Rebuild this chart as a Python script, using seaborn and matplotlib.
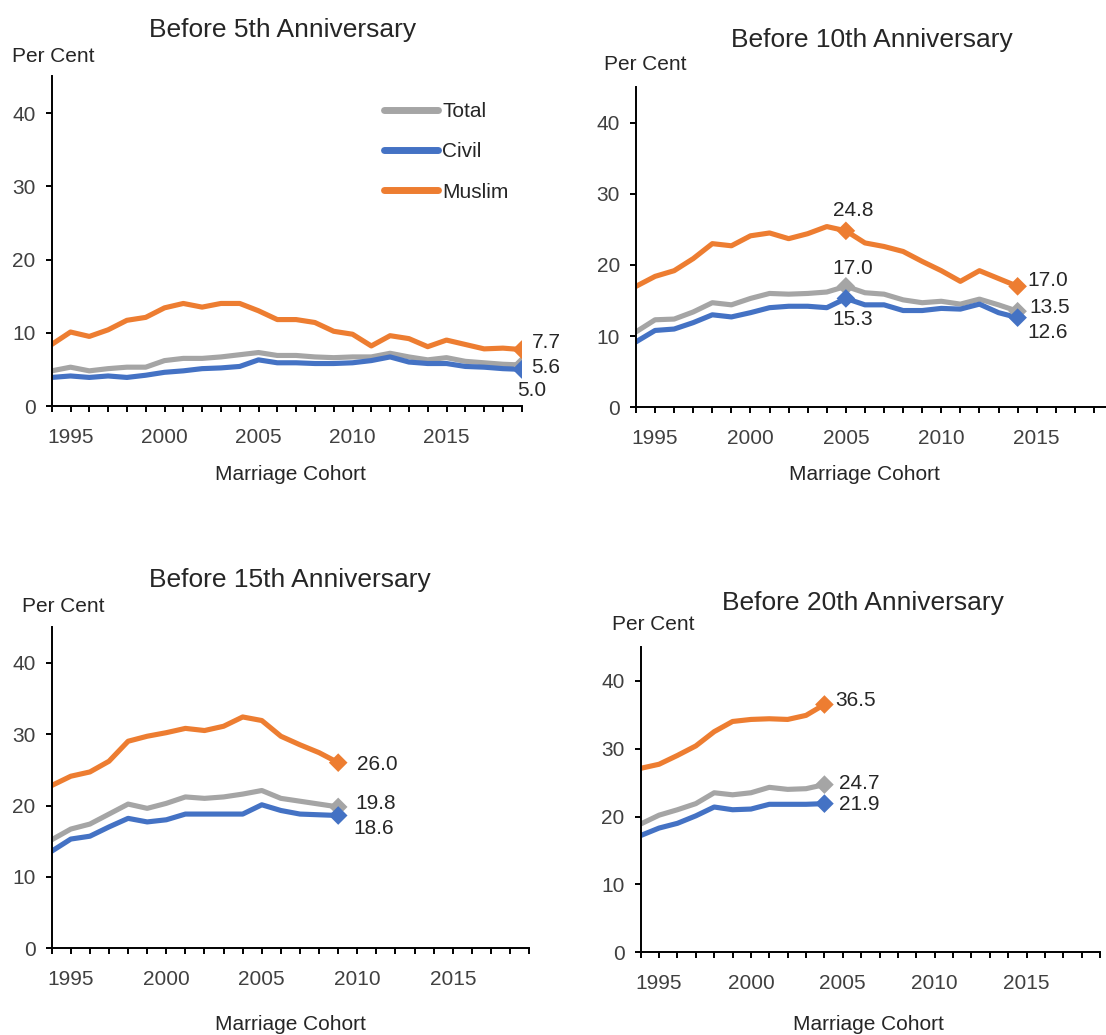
import pandas as pd
import matplotlib
matplotlib.use("Agg")
import matplotlib.pyplot as plt
import seaborn as sns

# marriage cohorts (x axis runs 1994-2019 in every panel)
axis_years = list(range(1994, 2020))

years_5 = list(range(1994, 2020))
total_5 = [4.8, 5.3, 4.8, 5.1, 5.3, 5.3, 6.2, 6.5, 6.5, 6.7, 7.0, 7.3, 6.9, 6.9, 6.7, 6.6, 6.7, 6.7, 7.2, 6.7, 6.3, 6.6, 6.1, 5.9, 5.7, 5.6]
civil_5 = [3.9, 4.1, 3.9, 4.1, 3.9, 4.2, 4.6, 4.8, 5.1, 5.2, 5.4, 6.3, 5.9, 5.9, 5.8, 5.8, 5.9, 6.2, 6.7, 6.0, 5.8, 5.8, 5.4, 5.3, 5.1, 5.0]
muslim_5 = [8.4, 10.1, 9.5, 10.4, 11.7, 12.1, 13.4, 14.0, 13.5, 14.0, 14.0, 13.0, 11.8, 11.8, 11.4, 10.2, 9.8, 8.2, 9.6, 9.2, 8.1, 9.0, 8.4, 7.8, 7.9, 7.7]

years_10 = list(range(1994, 2015))
total_10 = [10.6, 12.3, 12.4, 13.4, 14.7, 14.4, 15.3, 16.0, 15.9, 16.0, 16.2, 17.0, 16.1, 15.9, 15.1, 14.7, 14.9, 14.5, 15.2, 14.4, 13.5]
civil_10 = [9.2, 10.8, 11.0, 11.9, 13.0, 12.7, 13.3, 14.0, 14.2, 14.2, 14.0, 15.3, 14.4, 14.4, 13.6, 13.6, 13.9, 13.8, 14.5, 13.3, 12.6]
muslim_10 = [17.0, 18.4, 19.2, 20.9, 23.0, 22.7, 24.1, 24.5, 23.7, 24.4, 25.4, 24.8, 23.1, 22.6, 21.9, 20.5, 19.2, 17.7, 19.2, 18.1, 17.0]

years_15 = list(range(1994, 2010))
total_15 = [15.2, 16.7, 17.4, 18.8, 20.2, 19.6, 20.3, 21.2, 21.0, 21.2, 21.6, 22.1, 21.0, 20.6, 20.2, 19.8]
civil_15 = [13.6, 15.3, 15.7, 17.0, 18.2, 17.7, 18.0, 18.8, 18.8, 18.8, 18.8, 20.1, 19.3, 18.8, 18.7, 18.6]
muslim_15 = [22.8, 24.1, 24.7, 26.2, 29.0, 29.7, 30.2, 30.8, 30.5, 31.1, 32.4, 31.9, 29.7, 28.5, 27.4, 26.0]

years_20 = list(range(1994, 2005))
total_20 = [18.9, 20.2, 21.0, 21.9, 23.5, 23.2, 23.5, 24.3, 24.0, 24.1, 24.7]
civil_20 = [17.2, 18.3, 19.0, 20.1, 21.4, 21.0, 21.1, 21.8, 21.8, 21.8, 21.9]
muslim_20 = [27.1, 27.7, 29.0, 30.4, 32.5, 34.0, 34.3, 34.4, 34.3, 34.9, 36.5]

series_names = ["Total", "Civil", "Muslim"]
colors = {"Total": "#A5A5A5", "Civil": "#4472C4", "Muslim": "#ED7D31"}

# (title, years, [total, civil, muslim], years to mark with a diamond + label)
panels = [
    ("Before 5th Anniversary", years_5, [total_5, civil_5, muslim_5], [2019]),
    ("Before 10th Anniversary", years_10, [total_10, civil_10, muslim_10], [2005, 2014]),
    ("Before 15th Anniversary", years_15, [total_15, civil_15, muslim_15], [2009]),
    ("Before 20th Anniversary", years_20, [total_20, civil_20, muslim_20], [2004]),
]

# label offsets in points: (panel, series, year) -> (dx, dy, ha)
label_pos = {
    (0, "Muslim", 2019): (7, 5, "left"),
    (0, "Total", 2019): (7, -2, "left"),
    (0, "Civil", 2019): (-3.5, -15, "left"),
    (1, "Muslim", 2005): (5, 15, "center"),
    (1, "Total", 2005): (5, 13, "center"),
    (1, "Civil", 2005): (5, -15.5, "center"),
    (1, "Muslim", 2014): (7, 4.3, "left"),
    (1, "Total", 2014): (8.6, 2.8, "left"),
    (1, "Civil", 2014): (7, -11, "left"),
    (2, "Muslim", 2009): (13.3, -1.4, "left"),
    (2, "Total", 2009): (12.2, 2.2, "left"),
    (2, "Civil", 2009): (10.8, -9.7, "left"),
    (3, "Muslim", 2004): (7.6, 2.9, "left"),
    (3, "Total", 2004): (10.8, 0.7, "left"),
    (3, "Civil", 2004): (10.8, -0.7, "left"),
}

sns.set_style("ticks")
plt.rcParams["font.family"] = ["Liberation Sans", "DejaVu Sans"]

W, H = 1106, 1035
fig = plt.figure(figsize=(W / 100, H / 100), dpi=100)

# axes boxes in pixels: left, right, top, bottom
boxes = [(51.7, 521.7, 76.4, 406.0),
         (636.0, 1113.0, 87.1, 407.3),
         (51.7, 529.2, 627.0, 948.3),
         (640.7, 1100.0, 646.8, 952.3)]
# title centre, "Per Cent" left/centre y, "Marriage Cohort" centre
title_xy = [(283, 30), (872, 40), (290, 580), (863, 603)]
percent_xy = [(12, 57), (604, 64), (22, 607), (612, 625)]
cohort_xy = [(290, 474), (864, 474), (290, 1025), (868, 1025)]

text_col = "#262626"
tick_col = "#404040"

for i, (title, yrs, vals, marks) in enumerate(panels):
    l, r, t, b = boxes[i]
    ax = fig.add_axes([l / W, 1 - b / H, (r - l) / W, (b - t) / H])

    df = pd.DataFrame({
        "year": yrs * 3,
        "value": vals[0] + vals[1] + vals[2],
        "series": [s for s in series_names for _ in yrs],
    })
    sns.lineplot(data=df, x="year", y="value", hue="series", hue_order=series_names,
                 palette=colors, linewidth=3.7, ax=ax, legend=(i == 0))
    for ln in ax.lines:
        ln.set_solid_capstyle("round")
        ln.set_solid_joinstyle("round")

    marked = df[df["year"].isin(marks)]
    sns.scatterplot(data=marked, x="year", y="value", hue="series", hue_order=series_names,
                    palette=colors, marker="D", s=90, linewidth=0, ax=ax, legend=False, zorder=5)

    for _, row in marked.iterrows():
        dx, dy, ha = label_pos[(i, row["series"], row["year"])]
        ax.annotate(f"{row['value']:.1f}", xy=(row["year"], row["value"]),
                    xytext=(dx, dy), textcoords="offset points", ha=ha, va="center",
                    fontsize=15, color=text_col)

    ax.set_xlim(1994, 2019)
    ax.set_ylim(0, 45)
    ax.set_xticks(axis_years)
    ax.set_xticklabels([str(y) if y % 5 == 0 else "" for y in axis_years])
    ax.set_yticks([0, 10, 20, 30, 40])
    ax.tick_params(axis="both", labelsize=15, labelcolor=tick_col, length=4.5, width=1.4,
                   color="black", direction="out")
    ax.tick_params(axis="x", pad=11)
    ax.tick_params(axis="y", pad=7)
    sns.despine(ax=ax)
    for sp in ["left", "bottom"]:
        ax.spines[sp].set_linewidth(1.4)
        ax.spines[sp].set_color("black")
    ax.set_xlabel("")
    ax.set_ylabel("")

    if i == 0:
        handles, labels = ax.get_legend_handles_labels()
        leg = ax.legend(handles, labels, loc="upper left", frameon=False,
                        bbox_to_anchor=(384 / W, 1 - 102 / H), bbox_transform=fig.transFigure,
                        fontsize=15, handlelength=2.6, handletextpad=0.2,
                        labelspacing=1.02, borderpad=0, borderaxespad=0)
        for h in leg.get_lines():
            h.set_linewidth(5)
        for txt in leg.get_texts():
            txt.set_color(text_col)

    tx, ty = title_xy[i]
    fig.text(tx / W, 1 - ty / H, title, ha="center", va="center", fontsize=19, color=text_col)
    px, py = percent_xy[i]
    fig.text(px / W, 1 - py / H, "Per Cent", ha="left", va="center", fontsize=15, color=text_col)
    cx, cy = cohort_xy[i]
    fig.text(cx / W, 1 - cy / H, "Marriage Cohort", ha="center", va="center", fontsize=15, color=text_col)

fig.savefig("out.png", dpi=100)
